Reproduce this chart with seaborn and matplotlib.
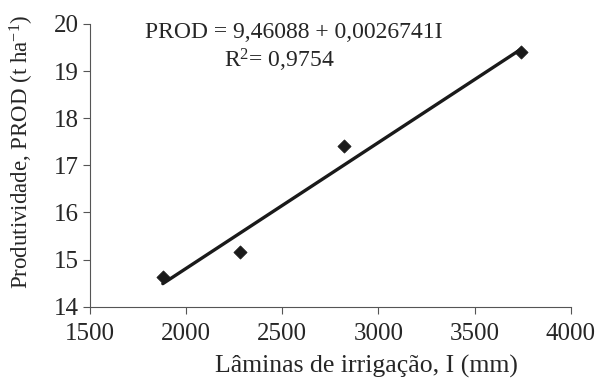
import numpy as np
import pandas as pd
import matplotlib
matplotlib.use("Agg")
import matplotlib.pyplot as plt
import seaborn as sns

# irrigation depth (mm) and yield (t/ha)
laminas = [1880, 2280, 2820, 3740]
prod = [14.62, 15.17, 17.42, 19.40]

# fitted equation shown on the chart
intercept = 9.46088
slope = 0.0026741
eq_label = "PROD = 9,46088 + 0,0026741I"
r2_label = "R$^{2}$= 0,9754"

x_ticks = [1500, 2000, 2500, 3000, 3500, 4000]
y_ticks = [14, 15, 16, 17, 18, 19, 20]

df = pd.DataFrame({"I": laminas, "PROD": prod})

# regression line over the range of the data
line_x = np.array([min(laminas), max(laminas)])
line_df = pd.DataFrame({"I": line_x, "PROD": intercept + slope * line_x})

sns.set_style("ticks")
plt.rcParams["font.family"] = ["Liberation Serif", "DejaVu Serif"]
plt.rcParams["mathtext.fontset"] = "custom"
plt.rcParams["mathtext.rm"] = "Liberation Serif"
plt.rcParams["mathtext.it"] = "Liberation Serif"

fig, ax = plt.subplots(figsize=(6.06, 3.8), dpi=100)
fig.subplots_adjust(left=0.148, right=0.942, bottom=0.193, top=0.937)

sns.lineplot(x="I", y="PROD", data=line_df, color="#1a1a1a", linewidth=2.4, ax=ax)
sns.scatterplot(x="I", y="PROD", data=df, marker="D", s=45, color="#1a1a1a",
                edgecolor="#1a1a1a", zorder=3, ax=ax)

ax.set_xlim(1500, 4000)
ax.set_ylim(14, 20)
ax.set_xticks(x_ticks)
ax.set_yticks(y_ticks)
ax.tick_params(labelsize=18, length=5, width=0.8, color="#555555", pad=3)
ax.tick_params(axis="x", pad=7)

for side in ["top", "right"]:
    ax.spines[side].set_visible(False)
for side in ["left", "bottom"]:
    ax.spines[side].set_color("#555555")
    ax.spines[side].set_linewidth(0.8)

ax.set_xlabel("Lâminas de irrigação, I (mm)", fontsize=18.5)
ax.xaxis.set_label_coords(0.576, -0.21, transform=ax.transAxes)
ax.xaxis.label.set_va("center")
ax.set_ylabel("Produtividade, PROD (t ha$^{-1}$)", fontsize=16.5)
ax.yaxis.set_label_coords(-0.14, 0.547, transform=ax.transAxes)
ax.yaxis.label.set_va("center")

ax.text(0.425, 0.968, eq_label, transform=ax.transAxes, fontsize=17,
        ha="center", va="center")
ax.text(0.395, 0.872, r2_label, transform=ax.transAxes, fontsize=17,
        ha="center", va="center")

plt.savefig("out.png", dpi=100)
plt.close()
